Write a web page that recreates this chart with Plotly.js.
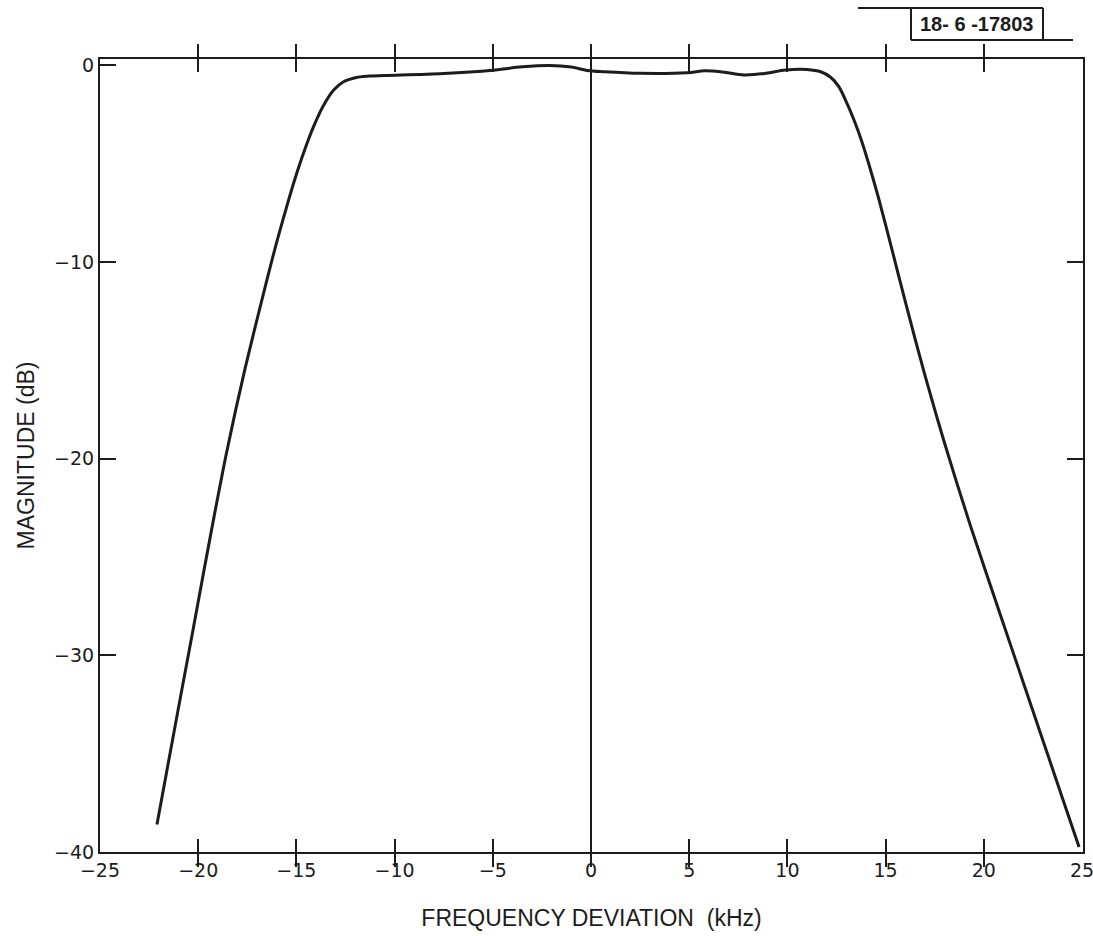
<!DOCTYPE html>
<html>
<head>
<meta charset="utf-8">
<script src="https://cdn.plot.ly/plotly-3.0.1.min.js"></script>
<style>
  html, body { margin: 0; padding: 0; background: #fff; }
  #plot { width: 1093px; height: 936px; }
</style>
</head>
<body>
<div id="plot"></div>
<script>
// Filter passband response: frequency deviation (kHz) vs magnitude (dB)
const freqKHz = [
  -22.1, -21.5, -20.9, -20.3, -19.7, -19.1, -18.6, -18.1, -17.6, -17.1,
  -16.6, -16.1, -15.6, -15.1, -14.6, -14.1, -13.6, -13.1, -12.6, -12.0,
  -11.3, -10.5, -7.5, -5.0, -3.5, -2.1, -1.0, -0.2, 0.7, 2.5,
  4.9, 5.8, 6.7, 7.8, 8.9, 9.9, 11.0, 11.7, 12.2, 12.6,
  13.0, 13.4, 13.8, 14.2, 14.6, 15.0, 15.5, 16.0, 16.5, 17.0,
  17.5, 18.0, 18.6, 19.3, 20.1, 21.0, 22.0, 23.0, 24.0, 24.85
];
const magnitudeDb = [
  -38.6, -35.35, -32.1, -28.9, -25.65, -22.45, -19.9, -17.55, -15.35, -13.3,
  -11.3, -9.35, -7.55, -5.85, -4.35, -3.05, -2.0, -1.25, -0.83, -0.62,
  -0.54, -0.51, -0.41, -0.24, -0.07, 0.0, -0.08, -0.25, -0.32, -0.4,
  -0.37, -0.27, -0.33, -0.48, -0.4, -0.23, -0.2, -0.32, -0.6, -1.05,
  -1.85, -2.8, -3.9, -5.2, -6.6, -8.1, -10.05, -12.0, -13.9, -15.75,
  -17.5, -19.2, -21.15, -23.35, -25.75, -28.4, -31.35, -34.3, -37.25, -39.75
];

const xTicks = [-25, -20, -15, -10, -5, 0, 5, 10, 15, 20, 25];
const yTicksLeft = [0, -10, -20, -30, -40];
const yTicksRight = [-10, -20, -30];
const drawingNumber = '18- 6 -17803';

const ink = '#1c1c1c';
const fontFamily = 'Liberation Sans, Arial, Helvetica, sans-serif';
const tickFamily = 'DejaVu Sans, Liberation Sans, Arial, sans-serif';

const trace = {
  x: freqKHz,
  y: magnitudeDb,
  type: 'scatter',
  mode: 'lines',
  line: { color: ink, width: 3, shape: 'spline', smoothing: 1 },
  hoverinfo: 'skip',
  showlegend: false
};

// invisible carrier so the right-hand tick axis is laid out
const rightTicks = {
  x: [0], y: [-40], yaxis: 'y2', type: 'scatter', mode: 'markers',
  marker: { opacity: 0 }, hoverinfo: 'skip', showlegend: false
};

const layout = {
  width: 1093,
  height: 936,
  margin: { l: 100, r: 10, t: 59, b: 84, pad: 0 },
  paper_bgcolor: '#fff',
  plot_bgcolor: '#fff',
  font: { family: fontFamily, color: ink },
  showlegend: false,
  xaxis: {
    range: [-25, 25.05],
    tickvals: xTicks,
    ticks: 'inside',
    ticklen: 13,
    tickwidth: 2,
    tickcolor: ink,
    showline: true,
    linewidth: 2,
    linecolor: ink,
    mirror: 'allticks',
    showgrid: false,
    zeroline: true,
    zerolinecolor: ink,
    zerolinewidth: 2,
    tickfont: { family: tickFamily, size: 19, color: ink },
    ticklabeloverflow: 'allow',
    automargin: false,
    title: {
      text: 'FREQUENCY DEVIATION\u00a0\u00a0(kHz)',
      font: { size: 23, color: ink },
      standoff: 30
    }
  },
  yaxis: {
    range: [-40, 0.33],
    tickvals: yTicksLeft,
    ticks: 'inside',
    ticklen: 16,
    tickwidth: 2,
    tickcolor: ink,
    showline: true,
    linewidth: 2,
    linecolor: ink,
    mirror: true,
    showgrid: false,
    zeroline: false,
    tickfont: { family: tickFamily, size: 19, color: ink },
    ticklabeloverflow: 'allow',
    automargin: false,
    title: {
      text: 'MAGNITUDE (dB)',
      font: { size: 23, color: ink },
      standoff: 13
    }
  },
  yaxis2: {
    overlaying: 'y',
    side: 'right',
    range: [-40, 0.33],
    tickvals: yTicksRight,
    ticks: 'inside',
    ticklen: 16,
    tickwidth: 2,
    tickcolor: ink,
    showticklabels: false,
    showline: false,
    showgrid: false,
    zeroline: false
  },
  shapes: [
    // drawing-number tag above the frame
    { type: 'line', xref: 'paper', yref: 'paper', x0: 0.771, x1: 0.9593, y0: 1.0643, y1: 1.0643, line: { color: ink, width: 2 } },
    { type: 'line', xref: 'paper', yref: 'paper', x0: 0.825, x1: 0.825, y0: 1.0643, y1: 1.024, line: { color: ink, width: 2 } },
    { type: 'line', xref: 'paper', yref: 'paper', x0: 0.9593, x1: 0.9593, y0: 1.0643, y1: 1.024, line: { color: ink, width: 2 } },
    { type: 'line', xref: 'paper', yref: 'paper', x0: 0.825, x1: 0.9898, y0: 1.024, y1: 1.024, line: { color: ink, width: 2 } }
  ],
  annotations: [
    {
      xref: 'paper', yref: 'paper',
      x: 0.892, y: 1.044,
      xanchor: 'center', yanchor: 'middle',
      text: '<b>' + drawingNumber + '</b>',
      showarrow: false,
      font: { family: 'Liberation Sans Narrow, Liberation Sans, Arial, sans-serif', size: 20, color: ink }
    }
  ]
};

Plotly.newPlot('plot', [trace, rightTicks], layout, { staticPlot: true, displayModeBar: false });
</script>
</body>
</html>
